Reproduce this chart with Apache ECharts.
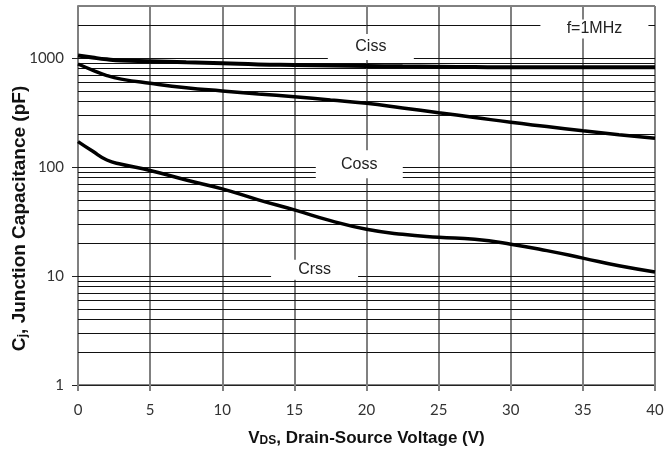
<!DOCTYPE html>
<html>
<head>
<meta charset="utf-8">
<script src="https://cdn.jsdelivr.net/npm/echarts@6/dist/echarts.min.js"></script>
<style>html,body{margin:0;padding:0;background:#fff}#c{width:665px;height:451px}</style>
</head>
<body>
<div id="c"></div>
<script>
const vds  = [0, 1, 2, 3, 5, 7.5, 10, 12.5, 15, 17.5, 20, 22.5, 25, 27.5, 30, 32.5, 35, 37.5, 40];
const ciss = [1056, 1010, 972, 948, 933, 912, 894, 873, 862, 852, 845, 838, 832, 826, 822, 822, 822, 822, 822];
const coss = [881, 775, 690, 640, 586, 534, 499, 468, 441, 412, 384, 348, 315, 285, 257, 235, 215, 198, 184];
const crss = [171, 140, 116, 106, 93, 76, 63, 50, 40.4, 32.2, 26.8, 24.1, 22.7, 21.7, 19.6, 17.1, 14.6, 12.4, 10.9];
const yMajor = [1, 10, 100, 1000];
const yGrid = [2,3,4,5,6,7,8,9,10,20,30,40,50,60,70,80,90,100,200,300,400,500,600,700,800,900,1000,2000];
const curveLabels = [
  {name: 'Ciss', x: 20.3, y: 1260, w: 86, h: 26},
  {name: 'Coss', x: 19.5, y: 106, w: 87, h: 28},
  {name: 'Crss', x: 16.4, y: 11.4, w: 87, h: 20},
  {name: 'f=1MHz', x: 35.8, y: 1850, w: 108, h: 19}
];

const pairs = arr => vds.map((v, i) => [v, arr[i]]);
const chart = echarts.init(document.getElementById('c'), null, {renderer: 'canvas'});
const lbl = {fontFamily: 'Lato', fontSize: 15, color: '#333'};
chart.setOption({
  animation: false,
  grid: {left: 78, right: 10, top: 6, bottom: 66, show: true, borderColor: '#000', borderWidth: 1,
         containLabel: false, outerBoundsMode: 'none'},
  xAxis: {
    type: 'value', min: 0, max: 40, interval: 5,
    axisLine: {lineStyle: {color: '#222', width: 1}},
    axisTick: {show: true, length: 6, lineStyle: {color: '#808080', width: 2}},
    splitLine: {show: true, lineStyle: {color: '#808080', width: 2}},
    axisLabel: Object.assign({margin: 18}, lbl),
    name: '{b|V}{s|DS}{b|, Drain-Source Voltage (V)}',
    nameLocation: 'middle', nameGap: 45, nameMoveOverlap: false,
    nameTextStyle: {
      rich: {
        b: {fontFamily: 'Liberation Sans', fontWeight: 'bold', fontSize: 17, color: '#111'},
        s: {fontFamily: 'Liberation Sans', fontWeight: 'bold', fontSize: 12, color: '#111', verticalAlign: 'bottom', padding: [4, 0, 0, 0]}
      }
    }
  },
  yAxis: {
    type: 'log', logBase: 10, min: 1, max: 3000, interval: 1,
    axisLine: {show: true, lineStyle: {color: '#808080', width: 2}},
    axisTick: {show: true, length: 6, customValues: yMajor, lineStyle: {color: '#222', width: 1}},
    splitLine: {show: false},
    axisLabel: Object.assign({margin: 14, customValues: yMajor, formatter: v => String(Math.round(v))}, lbl),
    name: '{b|C}{s|j}{b|, Junction Capacitance (pF)}',
    nameLocation: 'middle', nameGap: 49, nameRotate: 90, nameMoveOverlap: false,
    nameTextStyle: {
      padding: [0, 46, 0, 0],
      rich: {
        b: {fontFamily: 'Liberation Sans', fontWeight: 'bold', fontSize: 19, color: '#111'},
        s: {fontFamily: 'Liberation Sans', fontWeight: 'bold', fontSize: 13, color: '#111', verticalAlign: 'bottom', padding: [6, 0, 0, 0]}
      }
    }
  },
  series: [
    {
      type: 'line', name: 'Ciss', data: pairs(ciss), smooth: true, showSymbol: false, z: 2,
      lineStyle: {color: '#000', width: 4},
      markLine: {
        silent: true, symbol: ['none', 'none'], z: 1, animation: false,
        label: {show: false},
        lineStyle: {color: '#111', width: 1, type: 'solid'},
        data: yGrid.map(v => ({yAxis: v}))
      }
    },
    {type: 'line', name: 'Coss', data: pairs(coss), smooth: true, showSymbol: false, z: 2, lineStyle: {color: '#000', width: 3.5}},
    {
      type: 'line', name: 'Crss', data: pairs(crss), smooth: true, showSymbol: false, z: 2,
      lineStyle: {color: '#000', width: 3.5},
      markPoint: {
        silent: true, z: 3, animation: false, symbol: 'rect',
        itemStyle: {color: '#fff'},
        label: {show: true, position: 'inside', fontFamily: 'Liberation Sans', fontSize: 16, color: '#222'},
        data: curveLabels.map(c => ({coord: [c.x, c.y], symbolSize: [c.w, c.h], value: c.name, label: {formatter: c.name}}))
      }
    }
  ]
});
</script>
</body>
</html>
